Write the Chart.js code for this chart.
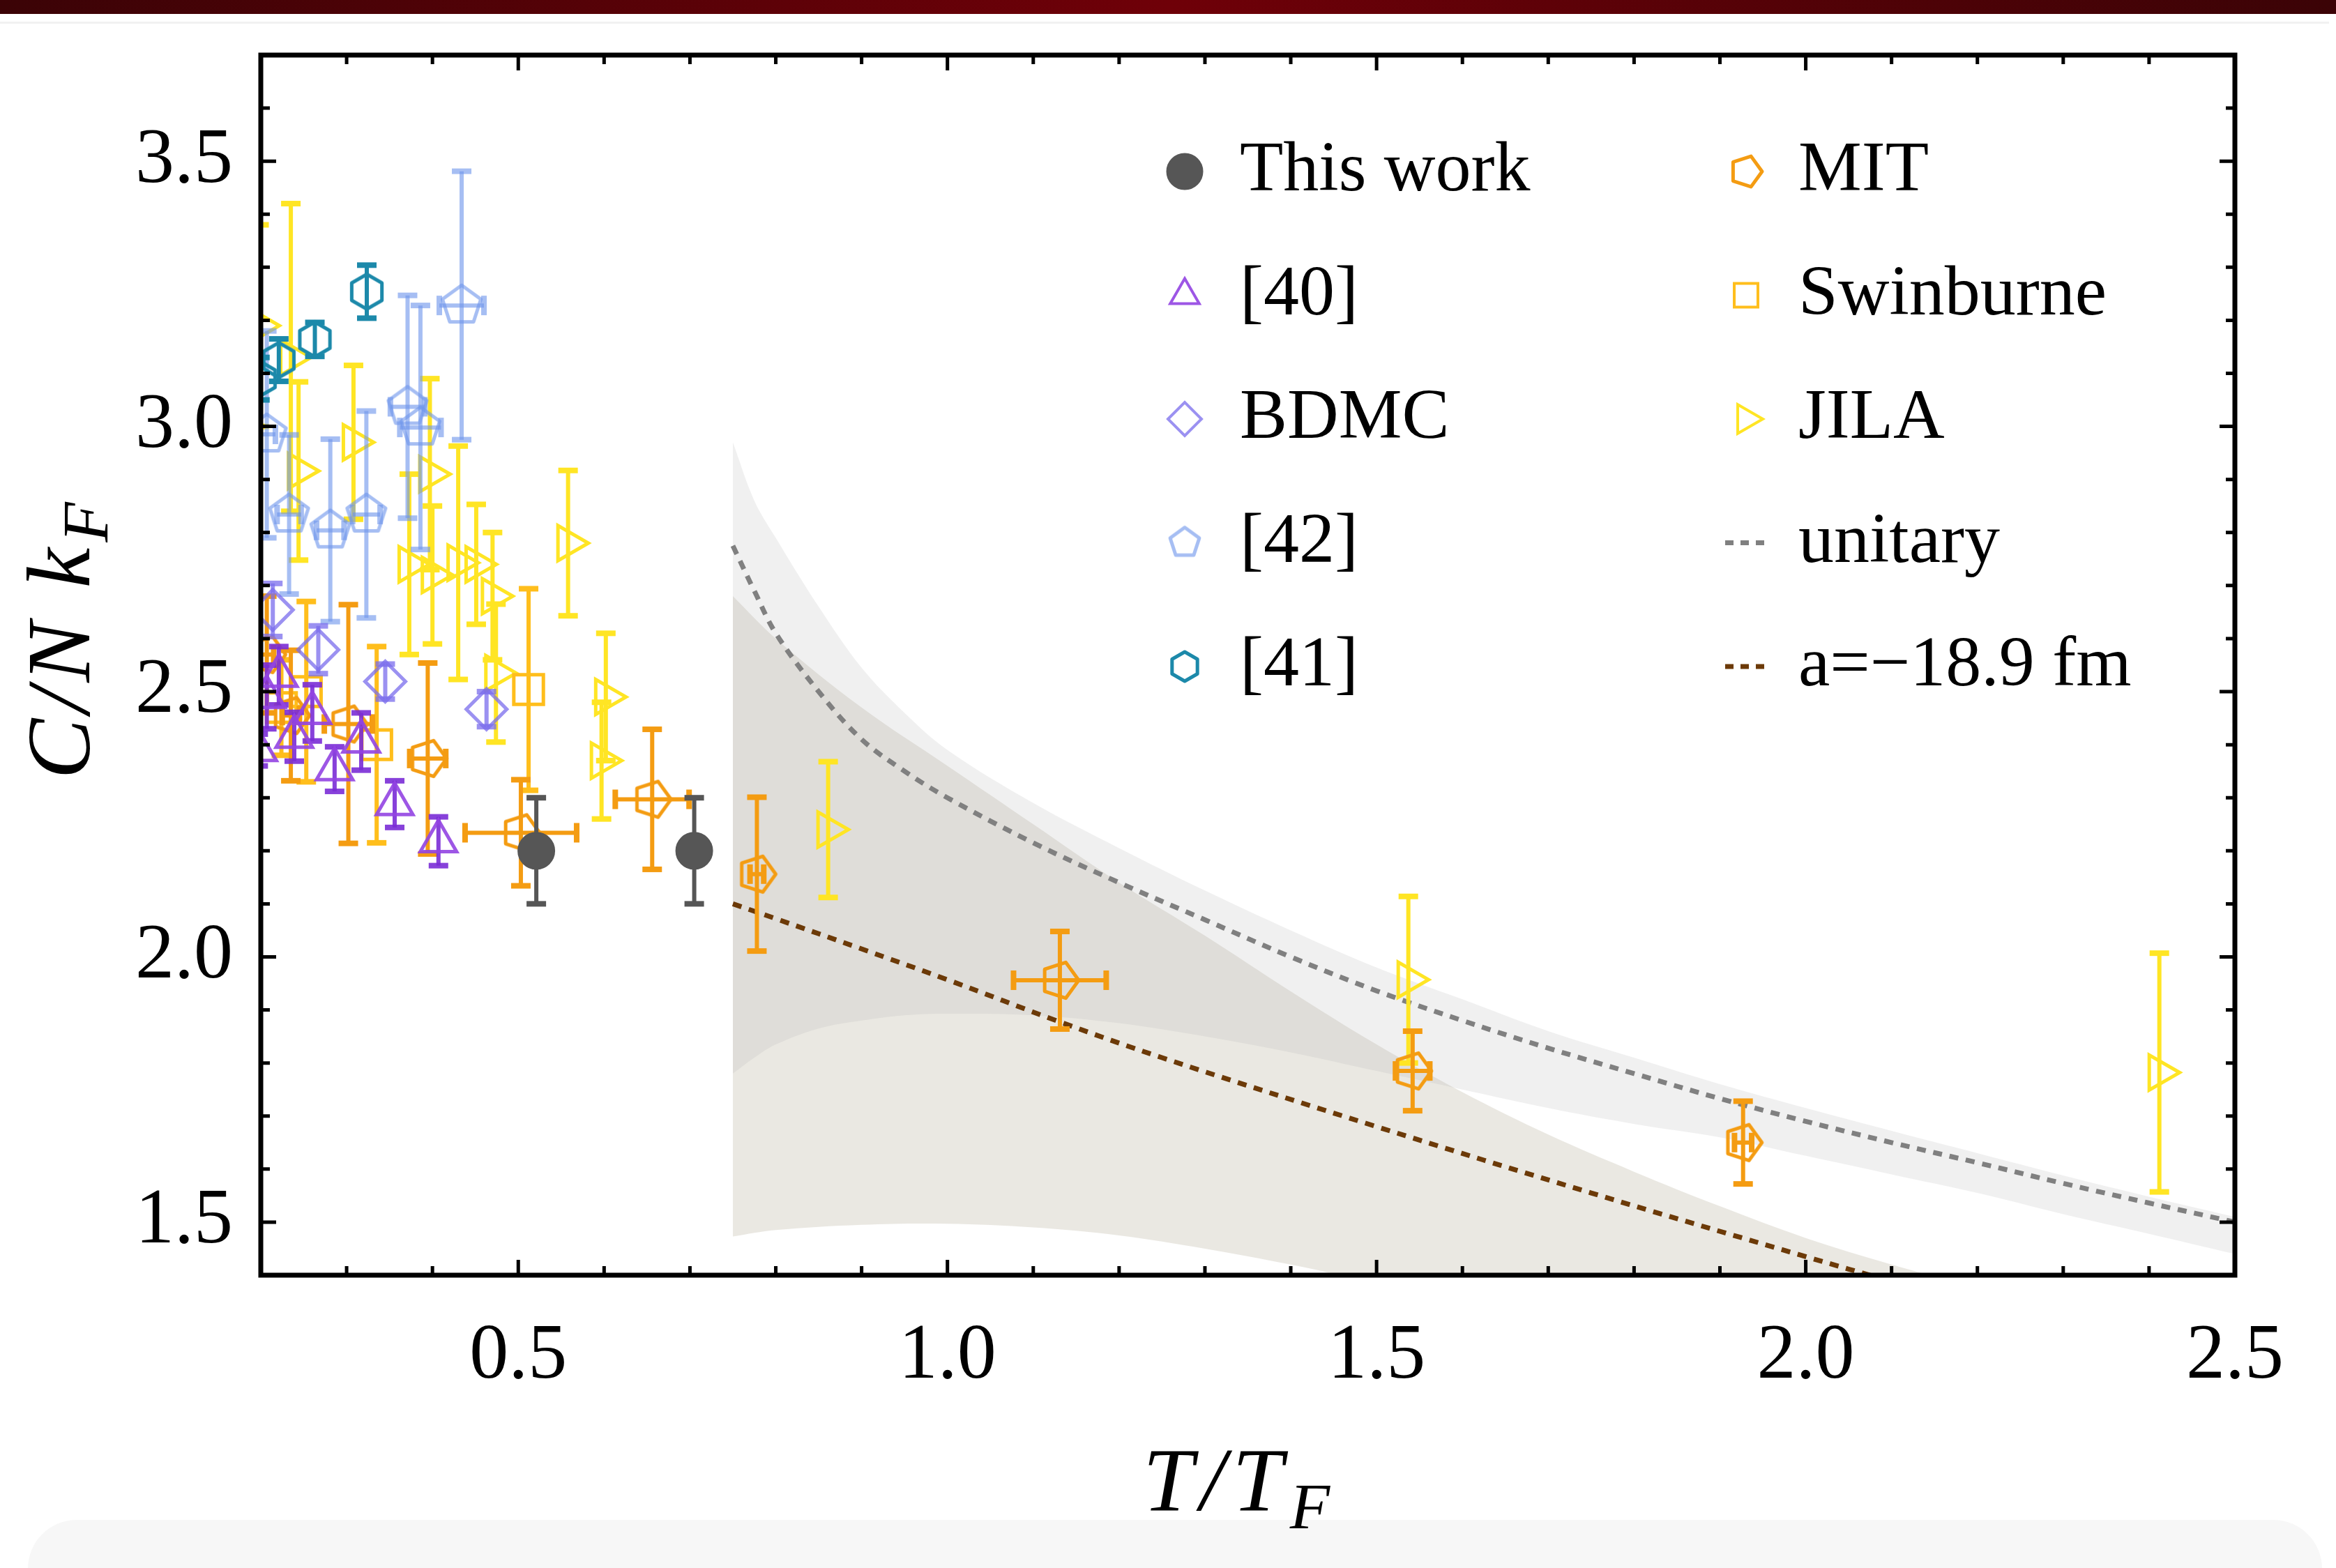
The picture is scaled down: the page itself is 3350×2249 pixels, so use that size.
<!DOCTYPE html>
<html>
<head>
<meta charset="utf-8">
<script src="https://cdn.jsdelivr.net/npm/chart.js@4.4.0/dist/chart.umd.min.js"></script>
<style>
  html, body { margin: 0; padding: 0; background: #ffffff; }
  body { width: 3350px; height: 2249px; position: relative; overflow: hidden; }
  #topbar { position: absolute; left: 0; top: 0; width: 3350px; height: 20px;
    background: linear-gradient(to right, #3b0306, #6f0008 50%, #3b0306); }
  #topline { position: absolute; left: 0; top: 31px; width: 3340px; height: 3px; background: #f1f1f1; }
  #footer { position: absolute; left: 40px; top: 2180px; width: 3290px; height: 140px;
    background: #f7f7f7; border-radius: 70px; }
  #chart { position: absolute; left: 0; top: 0; }
</style>
</head>
<body>
<div id="topbar"></div>
<div id="topline"></div>
<div id="footer"></div>
<canvas id="chart" width="3350" height="2249"></canvas>
<script>
// ---- data (T/T_F, C/N k_F) ----
const xTicks = [0.5, 1.0, 1.5, 2.0, 2.5];
const yTicks = [1.5, 2.0, 2.5, 3.0, 3.5];

const thisWorkT = [0.521, 0.705];
const thisWorkC = [2.20, 2.20];
const thisWorkErr = [0.10, 0.10];
const thisWorkTErr = [0, 0.008];

const ref40T = [0.197, 0.207, 0.221, 0.239, 0.260, 0.286, 0.317, 0.356, 0.407];
const ref40C = [2.39, 2.49, 2.53, 2.415, 2.46, 2.354, 2.406, 2.288, 2.218];
const ref40Err = [0.03, 0.06, 0.055, 0.046, 0.053, 0.042, 0.054, 0.044, 0.046];

const bdmcT = [0.214, 0.267, 0.345, 0.463];
const bdmcC = [2.654, 2.579, 2.519, 2.467];
const bdmcErr = [0.05, 0.045, 0.033, 0.033];

const ref42T = [0.207, 0.233, 0.281, 0.323, 0.371, 0.386, 0.434];
const ref42C = [2.985, 2.834, 2.804, 2.834, 3.037, 2.998, 3.228];
const ref42Err = [0.195, 0.15, 0.172, 0.195, 0.21, 0.23, 0.253];
const ref42TErr = [0.01, 0.014, 0.016, 0.016, 0.02, 0.024, 0.026];

const ref41T = [0.199, 0.221, 0.263, 0.3235];
const ref41C = [3.09, 3.125, 3.164, 3.254];
const ref41Err = [0.04, 0.04, 0.032, 0.05];

const mitT = [0.207, 0.235, 0.302, 0.3945, 0.503, 0.656, 0.778, 1.131, 1.542, 1.927];
const mitC = [2.57, 2.455, 2.439, 2.374, 2.234, 2.297, 2.156, 1.956, 1.785, 1.65];
const mitErr = [0.11, 0.123, 0.225, 0.18, 0.10, 0.132, 0.145, 0.092, 0.075, 0.078];
const mitTErr = [0.008, 0.01, 0.028, 0.021, 0.065, 0.043, 0.008, 0.054, 0.02, 0.01];

const swinT = [0.224, 0.253, 0.335, 0.512];
const swinC = [2.47, 2.50, 2.40, 2.504];
const swinErr = [0.09, 0.17, 0.185, 0.19];

const jilaT = [0.198, 0.235, 0.244, 0.308, 0.373, 0.397, 0.400, 0.430, 0.451, 0.470, 0.474, 0.558, 0.597, 0.602, 0.861, 1.537, 2.412];
const jilaC = [3.19, 3.13, 2.916, 2.97, 2.74, 2.91, 2.72, 2.743, 2.74, 2.68, 2.535, 2.78, 2.37, 2.49, 2.24, 1.957, 1.782];
const jilaErr = [0.19, 0.29, 0.168, 0.145, 0.17, 0.18, 0.13, 0.22, 0.113, 0.12, 0.13, 0.137, 0.11, 0.12, 0.128, 0.157, 0.225];

// unitary curve and its band
const unitaryT = [0.75, 0.775, 0.8, 0.85, 0.9, 0.95, 1.0, 1.1, 1.2, 1.3, 1.4, 1.5, 1.6, 1.7, 1.8, 1.9, 2.0, 2.1, 2.2, 2.3, 2.4, 2.5];
const unitaryC = [2.775, 2.69, 2.61, 2.50, 2.41, 2.35, 2.30, 2.215, 2.14, 2.07, 2.00, 1.936, 1.88, 1.828, 1.78, 1.733, 1.69, 1.65, 1.612, 1.573, 1.536, 1.50];
const unitaryUp = [2.97, 2.86, 2.79, 2.66, 2.545, 2.46, 2.39, 2.29, 2.205, 2.125, 2.05, 1.98, 1.92, 1.86, 1.81, 1.76, 1.715, 1.672, 1.63, 1.588, 1.548, 1.51];
const unitaryLow = [1.78, 1.81, 1.835, 1.865, 1.88, 1.89, 1.893, 1.89, 1.875, 1.85, 1.82, 1.785, 1.75, 1.715, 1.685, 1.66, 1.625, 1.59, 1.555, 1.515, 1.478, 1.44];

// a = -18.9 fm curve and its band
const scatT = [0.75, 0.8, 0.9, 1.0, 1.13, 1.25, 1.5, 1.75, 2.0, 2.1, 2.2];
const scatC = [2.10, 2.072, 2.015, 1.957, 1.878, 1.81, 1.68, 1.555, 1.435, 1.388, 1.34];
const scatBandT = [0.75, 0.8, 0.9, 1.0, 1.1, 1.2, 1.3, 1.4, 1.5, 1.6, 1.7, 1.8, 1.9, 2.0, 2.1, 2.2, 2.3];
const scatUp = [2.68, 2.60, 2.47, 2.36, 2.25, 2.14, 2.04, 1.935, 1.835, 1.745, 1.665, 1.595, 1.53, 1.47, 1.42, 1.375, 1.33];
const scatLow = [1.473, 1.485, 1.495, 1.497, 1.49, 1.475, 1.45, 1.42, 1.385, 1.35, 1.31, 1.27, 1.23, 1.19, 1.15, 1.11, 1.07];

const serif = '"Liberation Serif", "DejaVu Serif", serif';

function toPoints(xs, ys) {
  return xs.map((x, i) => ({ x: x, y: ys[i] }));
}

// hollow polygon marker drawn on a small canvas (used as pointStyle)
function polygonImage(sides, radius, startDeg, color, lineWidth) {
  const size = Math.ceil(2 * radius + 2 * lineWidth + 4);
  const cv = document.createElement("canvas");
  cv.width = size;
  cv.height = size;
  const g = cv.getContext("2d");
  g.strokeStyle = color;
  g.lineWidth = lineWidth;
  g.lineJoin = "round";
  g.beginPath();
  for (let k = 0; k < sides; k++) {
    const a = (startDeg * Math.PI) / 180 + (k * 2 * Math.PI) / sides;
    const px = size / 2 + radius * Math.cos(a);
    const py = size / 2 + radius * Math.sin(a);
    if (k === 0) g.moveTo(px, py);
    else g.lineTo(px, py);
  }
  g.closePath();
  g.stroke();
  return cv;
}

const col = {
  thisWork: "#565656",
  ref40: "rgba(146, 68, 226, 0.9)",
  ref40Bar: "rgba(122, 44, 214, 0.9)",
  bdmc: "rgba(122, 108, 236, 0.75)",
  ref42: "rgba(112, 150, 236, 0.62)",
  ref41: "#1c89aa",
  mit: "#f49c12",
  swin: "#ffbe1c",
  jila: "#ffe524",
  unitary: "#808080",
  scat: "#6c3a08",
};

const pentUp42 = polygonImage(5, 29, -90, col.ref42, 5);
const hex41 = polygonImage(6, 25, -90, col.ref41, 5);
const pentMit = polygonImage(5, 27, 0, col.mit, 5);

// smaller copies for the legend
const legendShapes = {
  "[42]": polygonImage(5, 22, -90, col.ref42, 5),
  "[41]": polygonImage(6, 21, -90, col.ref41, 5),
  MIT: polygonImage(5, 23, 0, col.mit, 5),
};

function pointSet(label, xs, ys, opts) {
  return Object.assign(
    {
      label: label,
      data: toPoints(xs, ys),
      showLine: false,
      clip: 0,
      pointBackgroundColor: "rgba(0,0,0,0)",
      pointBorderWidth: 5,
      pointRadius: 29,
      pointHoverRadius: 29,
    },
    opts
  );
}

function bandSet(xs, ys, color, fill) {
  return {
    data: toPoints(xs, ys),
    showLine: true,
    clip: 0,
    pointRadius: 0,
    borderWidth: 0,
    borderColor: "rgba(0,0,0,0)",
    backgroundColor: color,
    fill: fill,
    tension: 0.35,
    order: 20,
  };
}

const datasets = [
  bandSet(unitaryT, unitaryUp, "rgba(170,170,170,0.18)", "+1"),
  bandSet(unitaryT, unitaryLow, "rgba(0,0,0,0)", false),
  bandSet(scatBandT, scatUp, "rgba(150,140,110,0.2)", "+1"),
  bandSet(scatBandT, scatLow, "rgba(0,0,0,0)", false),
  {
    label: "unitary",
    data: toPoints(unitaryT, unitaryC),
    showLine: true,
    clip: 0,
    pointRadius: 0,
    borderColor: col.unitary,
    borderWidth: 7,
    borderDash: [13, 11],
    tension: 0.35,
    fill: false,
    order: 15,
  },
  {
    label: "a=\u221218.9 fm",
    data: toPoints(scatT, scatC),
    showLine: true,
    clip: 0,
    pointRadius: 0,
    borderColor: col.scat,
    borderWidth: 7,
    borderDash: [13, 11],
    tension: 0.35,
    fill: false,
    order: 15,
  },
  pointSet("JILA", jilaT, jilaC, {
    pointStyle: "triangle", rotation: 90, pointRadius: 29, pointBorderColor: col.jila,
    borderColor: col.jila, errY: jilaErr, barWidth: 6, order: 8,
  }),
  pointSet("Swinburne", swinT, swinC, {
    pointStyle: "rect", pointRadius: 30, pointBorderColor: col.swin,
    borderColor: col.swin, errY: swinErr, order: 7,
  }),
  pointSet("[42]", ref42T, ref42C, {
    pointStyle: pentUp42, pointBorderColor: col.ref42,
    borderColor: col.ref42, errY: ref42Err, errX: ref42TErr, order: 6,
  }),
  pointSet("MIT", mitT, mitC, {
    pointStyle: pentMit, pointBorderColor: col.mit,
    borderColor: col.mit, errY: mitErr, errX: mitTErr, order: 5,
  }),
  pointSet("BDMC", bdmcT, bdmcC, {
    pointStyle: "rectRot", pointRadius: 29, pointBorderColor: col.bdmc,
    borderColor: col.bdmc, errY: bdmcErr, order: 4,
  }),
  pointSet("[41]", ref41T, ref41C, {
    pointStyle: hex41, pointBorderColor: col.ref41,
    borderColor: col.ref41, errY: ref41Err, order: 3,
  }),
  pointSet("[40]", ref40T, ref40C, {
    pointStyle: "triangle", pointRadius: 30, pointBorderColor: col.ref40,
    borderColor: col.ref40Bar, errY: ref40Err, order: 2,
  }),
  pointSet("This work", thisWorkT, thisWorkC, {
    pointStyle: "circle", pointRadius: 26, pointBorderWidth: 2,
    pointBackgroundColor: col.thisWork, pointBorderColor: col.thisWork,
    borderColor: col.thisWork, errY: thisWorkErr, errX: thisWorkTErr, order: 1,
  }),
];

// error bars, drawn under each dataset's own markers
const errorBarPlugin = {
  id: "errorBars",
  beforeDatasetDraw(chart, args) {
    const ds = chart.data.datasets[args.index];
    if (!ds.errY && !ds.errX) return;
    const xs = chart.scales.x;
    const ys = chart.scales.y;
    const c = chart.ctx;
    const area = chart.chartArea;
    const w = ds.barWidth || 6;
    const cap = 14;
    const capT = 8;
    c.save();
    c.beginPath();
    c.rect(area.left, area.top, area.right - area.left, area.bottom - area.top);
    c.clip();
    c.strokeStyle = ds.borderColor;
    c.fillStyle = ds.borderColor;
    c.lineWidth = w;
    ds.data.forEach((p, i) => {
      const px = xs.getPixelForValue(p.x);
      const py = ys.getPixelForValue(p.y);
      if (ds.errY && ds.errY[i]) {
        const top = ys.getPixelForValue(p.y + ds.errY[i]);
        const bot = ys.getPixelForValue(p.y - ds.errY[i]);
        c.beginPath();
        c.moveTo(px, top);
        c.lineTo(px, bot);
        c.stroke();
        c.fillRect(px - cap, top - capT / 2, 2 * cap, capT);
        c.fillRect(px - cap, bot - capT / 2, 2 * cap, capT);
      }
      if (ds.errX && ds.errX[i]) {
        const l = xs.getPixelForValue(p.x - ds.errX[i]);
        const r = xs.getPixelForValue(p.x + ds.errX[i]);
        c.beginPath();
        c.moveTo(l, py);
        c.lineTo(r, py);
        c.stroke();
        c.fillRect(l - capT / 2, py - cap, capT, 2 * cap);
        c.fillRect(r - capT / 2, py - cap, capT, 2 * cap);
      }
    });
    c.restore();
  },
};

// black frame with inward ticks on all four sides
const framePlugin = {
  id: "frame",
  afterDatasetsDraw(chart) {
    const c = chart.ctx;
    const a = chart.chartArea;
    const xs = chart.scales.x;
    const ys = chart.scales.y;
    c.save();
    c.strokeStyle = "#000";
    c.lineWidth = 5;
    for (let k = 2; k <= 25; k++) {
      const px = xs.getPixelForValue(k / 10);
      const len = k % 5 === 0 ? 22 : 13;
      c.beginPath();
      c.moveTo(px, a.bottom);
      c.lineTo(px, a.bottom - len);
      c.moveTo(px, a.top);
      c.lineTo(px, a.top + len);
      c.stroke();
    }
    for (let k = 14; k <= 37; k++) {
      const py = ys.getPixelForValue(k / 10);
      const len = k % 5 === 0 ? 22 : 13;
      c.beginPath();
      c.moveTo(a.left, py);
      c.lineTo(a.left + len, py);
      c.moveTo(a.right, py);
      c.lineTo(a.right - len, py);
      c.stroke();
    }
    c.lineWidth = 7;
    c.strokeRect(a.left, a.top, a.right - a.left, a.bottom - a.top);
    c.restore();
  },
};

// two-column legend inside the plot
const legendRows = [
  [{ ds: "This work" }, { ds: "MIT" }],
  [{ ds: "[40]" }, { ds: "Swinburne" }],
  [{ ds: "BDMC" }, { ds: "JILA" }],
  [{ ds: "[42]" }, { line: "unitary", color: col.unitary }],
  [{ ds: "[41]" }, { line: "a=\u221218.9 fm", color: col.scat }],
];

const legendPlugin = {
  id: "twoColLegend",
  afterDraw(chart) {
    const c = chart.ctx;
    const colX = [1699, 2504];
    const textX = [1778, 2579];
    c.save();
    c.font = "102px " + serif;
    c.textBaseline = "alphabetic";
    c.textAlign = "left";
    legendRows.forEach((row, r) => {
      const y = 246 + r * 177.5;
      row.forEach((item, k) => {
        if (item.ds) {
          const ds = chart.data.datasets.find((d) => d.label === item.ds);
          c.strokeStyle = ds.pointBorderColor;
          c.fillStyle = ds.pointBackgroundColor;
          c.lineWidth = item.ds === "This work" ? 3 : 4;
          Chart.helpers.drawPoint(
            c,
            {
              pointStyle: legendShapes[item.ds] || ds.pointStyle,
              rotation: ds.rotation || 0,
              radius: item.ds === "This work" ? 25 : 24,
              borderWidth: c.lineWidth,
            },
            colX[k],
            y
          );
          c.fillStyle = "#000";
          c.fillText(item.ds, textX[k], y + 27);
        } else {
          c.strokeStyle = item.color;
          c.lineWidth = 7;
          c.setLineDash([12, 10]);
          c.beginPath();
          c.moveTo(colX[k] - 30, y);
          c.lineTo(colX[k] + 30, y);
          c.stroke();
          c.setLineDash([]);
          c.fillStyle = "#000";
          c.fillText(item.line, textX[k], y + 27);
        }
      });
    });
    c.restore();
  },
};

// axis titles with subscript F, letters spread a little like the TeX original
function drawMathLabel(c, parts, x, y, size, gap) {
  const pieces = [];
  parts.forEach((p) => {
    Array.from(p.t).forEach((ch) => pieces.push({ ch: ch, sub: p.sub }));
  });
  let w = 0;
  pieces.forEach((p) => {
    c.font = "italic " + Math.round(size * (p.sub ? 0.72 : 1)) + "px " + serif;
    w += c.measureText(p.ch).width + gap;
  });
  let cx = x - (w - gap) / 2;
  pieces.forEach((p) => {
    c.font = "italic " + Math.round(size * (p.sub ? 0.72 : 1)) + "px " + serif;
    c.fillText(p.ch, cx, y + (p.sub ? size * 0.2 : 0));
    cx += c.measureText(p.ch).width + gap;
  });
}

const titlePlugin = {
  id: "axisTitles",
  afterDraw(chart) {
    const c = chart.ctx;
    c.save();
    c.fillStyle = "#000";
    c.textBaseline = "alphabetic";
    c.textAlign = "left";
    drawMathLabel(c, [{ t: "T/T" }, { t: "F", sub: true }], 1773, 2166, 130, 10);
    c.translate(128, 919);
    c.rotate(-Math.PI / 2);
    drawMathLabel(c, [{ t: "C/N k" }, { t: "F", sub: true }], 0, 0, 130, 8);
    c.restore();
  },
};

function fixTicks(values) {
  return (scale) => {
    scale.ticks = values.map((v) => ({ value: v }));
  };
}

const ctx = document.getElementById("chart").getContext("2d");
new Chart(ctx, {
  type: "scatter",
  data: { datasets: datasets },
  options: {
    responsive: false,
    animation: false,
    devicePixelRatio: 1,
    events: [],
    layout: { padding: { left: 0, right: 145, top: 79, bottom: 0 } },
    plugins: {
      legend: { display: false },
      tooltip: { enabled: false },
    },
    scales: {
      x: {
        type: "linear",
        min: 0.2,
        max: 2.5,
        afterBuildTicks: fixTicks(xTicks),
        afterFit: (s) => {
          s.height = 420;
          s.paddingLeft = 0;
          s.paddingRight = 0;
        },
        grid: { display: false, drawTicks: false },
        border: { display: false },
        ticks: {
          color: "#000",
          font: { family: serif, size: 112 },
          padding: 50,
          maxRotation: 0,
          autoSkip: false,
          callback: (v) => Number(v).toFixed(1),
        },
      },
      y: {
        type: "linear",
        min: 1.4,
        max: 3.7,
        afterBuildTicks: fixTicks(yTicks),
        afterFit: (s) => {
          s.width = 374;
          s.paddingTop = 0;
          s.paddingBottom = 0;
        },
        grid: { display: false, drawTicks: false },
        border: { display: false },
        ticks: {
          color: "#000",
          font: { family: serif, size: 112 },
          padding: 40,
          autoSkip: false,
          callback: (v) => Number(v).toFixed(1),
        },
      },
    },
  },
  plugins: [errorBarPlugin, framePlugin, legendPlugin, titlePlugin],
});
</script>
</body>
</html>
